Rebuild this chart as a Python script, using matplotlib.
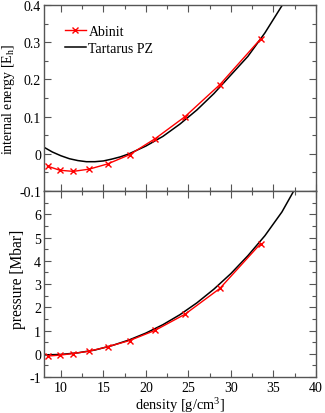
#!/usr/bin/env python3
import matplotlib
matplotlib.use("Agg")
import matplotlib.pyplot as plt
from matplotlib.ticker import MultipleLocator

# Abinit points
abinit_rho = [8.43, 9.88, 11.45, 13.33, 15.5, 18.1, 21.1, 24.6, 28.7, 33.5]
abinit_energy = [-0.033, -0.044, -0.047, -0.041, -0.027, -0.002, 0.041, 0.100, 0.186, 0.309]
abinit_pressure = [-0.10, -0.06, 0.01, 0.11, 0.30, 0.57, 1.01, 1.70, 2.81, 4.74]

# Tartarus PZ curves
tart_rho_e = [8.0, 9.0, 10.0, 11.0, 12.0, 13.0, 14.0, 15.0, 16.0, 17.0, 18.0,
              20.0, 22.0, 24.0, 26.0, 28.0, 30.0, 32.0, 34.0, 36.0, 37.0]
tart_energy = [0.018, 0.005, -0.005, -0.013, -0.018, -0.021, -0.021, -0.019,
               -0.014, -0.008, 0.000, 0.021, 0.047, 0.080, 0.118, 0.162,
               0.212, 0.262, 0.325, 0.398, 0.435]

tart_rho_p = [8.0, 10.0, 12.0, 14.0, 16.0, 18.0, 20.0, 22.0, 24.0, 26.0,
              28.0, 30.0, 32.0, 34.0, 36.0, 38.0]
tart_pressure = [-0.05, -0.03, 0.04, 0.16, 0.35, 0.59, 0.89, 1.25, 1.68,
                 2.19, 2.78, 3.45, 4.22, 5.08, 6.10, 7.40]

plt.rcParams["font.family"] = ["Liberation Serif", "DejaVu Serif"]
plt.rcParams["mathtext.fontset"] = "custom"
plt.rcParams["mathtext.rm"] = "Liberation Serif"
plt.rcParams["mathtext.it"] = "Liberation Serif:italic"
plt.rcParams["axes.unicode_minus"] = False

fig = plt.figure(figsize=(3.25, 4.14), dpi=100)
ax1 = fig.add_axes([0.135, 0.536, 0.837, 0.4495])
ax2 = fig.add_axes([0.135, 0.087, 0.837, 0.449])


def style_axis(ax):
    for sp in ax.spines.values():
        sp.set_color("#555555")
        sp.set_linewidth(1.0)
    ax.tick_params(which="both", direction="in", top=True, right=True,
                   colors="#555555", labelcolor="black", labelsize=10)
    ax.tick_params(which="major", length=5, width=0.8)
    ax.tick_params(which="minor", length=3, width=0.8)
    ax.tick_params(axis="y", pad=2)
    ax.tick_params(axis="x", pad=3)
    ax.xaxis.set_major_locator(MultipleLocator(5))
    ax.xaxis.set_minor_locator(MultipleLocator(2.5))
    ax.set_xlim(8, 40)


# energy panel
ax1.plot(tart_rho_e, tart_energy, color="black", lw=1.1, label="Tartarus PZ", zorder=2)
ax1.plot(abinit_rho, abinit_energy, color="red", lw=1.0, marker="x",
         markersize=5, markeredgewidth=1.0, label="Abinit", zorder=3)
style_axis(ax1)
ax1.set_ylim(-0.1, 0.4)
ax1.yaxis.set_minor_locator(MultipleLocator(0.05))
ax1.set_yticks([-0.1, 0, 0.1, 0.2, 0.3, 0.4])
ax1.set_yticklabels(["-0.1", "0", "0.1", "0.2", "0.3", "0.4"])
ax1.tick_params(labelbottom=False)
ax1.set_ylabel(r"internal energy [E$_\mathrm{h}$]", fontsize=10)
ax1.yaxis.set_label_coords(-0.098, 0.5)
handles, labels = ax1.get_legend_handles_labels()
ax1.legend(handles[::-1], labels[::-1], loc="upper left", bbox_to_anchor=(0.077, 0.895),
           frameon=False, fontsize=10, handlelength=1.5, handletextpad=0.2,
           borderaxespad=0, borderpad=0, labelspacing=0.3)

# pressure panel
ax2.plot(tart_rho_p, tart_pressure, color="black", lw=1.1, zorder=2)
ax2.plot(abinit_rho, abinit_pressure, color="red", lw=1.0, marker="x",
         markersize=5, markeredgewidth=1.0, zorder=3)
style_axis(ax2)
ax2.set_ylim(-1, 7)
ax2.yaxis.set_minor_locator(MultipleLocator(0.5))
ax2.set_yticks(range(-1, 7))
ax2.set_xticks([10, 15, 20, 25, 30, 35, 40])
ax2.set_ylabel("pressure [Mbar]", fontsize=11.2)
ax2.yaxis.set_label_coords(-0.064, 0.532)
ax2.set_xlabel(r"density [g/cm$^\mathrm{3}$]", fontsize=10.4, labelpad=1)

fig.savefig("out.png", dpi=100)
